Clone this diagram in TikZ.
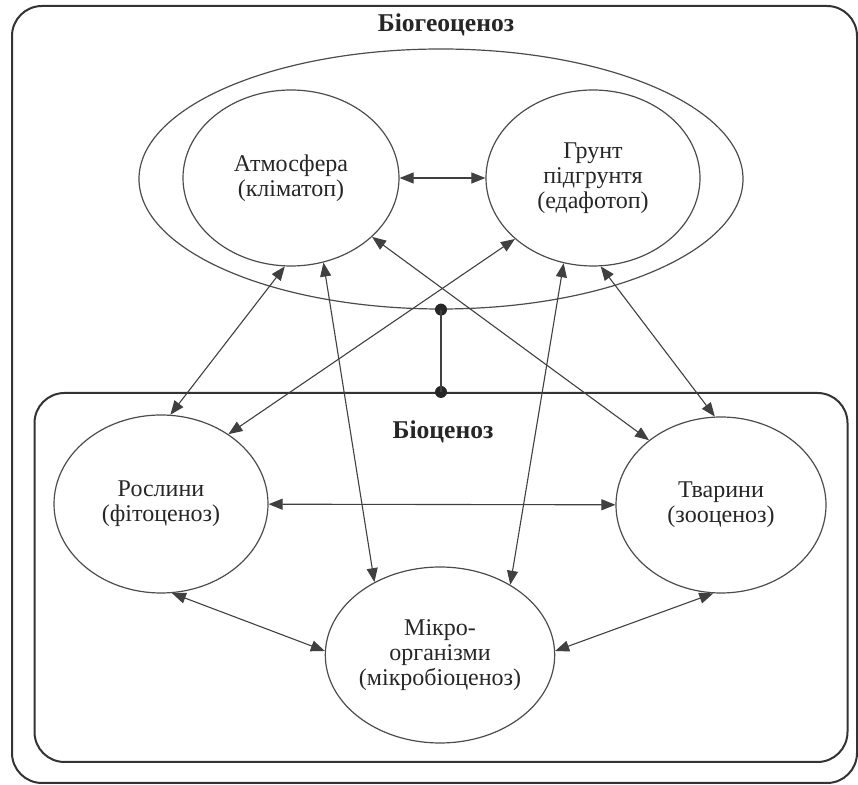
\documentclass[tikz,border=0pt]{standalone}
\usepackage{fontspec}
\setmainfont{Liberation Serif}
\usetikzlibrary{arrows.meta,shapes.geometric}

\begin{document}
\begin{tikzpicture}[x=0.5pt,y=-0.5pt,
  oval/.style={draw=black!70, line width=0.6pt, ellipse, inner sep=0pt, align=center,
    font=\fontsize{12}{12.5}\selectfont, text=black!85},
  link/.style={draw=black!75, line width=0.55pt,
    {Triangle[length=7pt,width=5.5pt]}-{Triangle[length=7pt,width=5.5pt]}},
  frame/.style={draw=black!80, line width=1pt, rounded corners=15pt},
  title/.style={font=\bfseries\fontsize{12.8}{14}\selectfont, text=black!85}]
  \useasboundingbox (0,0) rectangle (858,785);
  \draw[frame] (12,6) rectangle (857,783);
  \node[title] (biogeo) at (446,25) {Біогеоценоз};
  \node[oval, minimum width=302pt, minimum height=130pt] (ecotop) at (441,179) {};
  \node[oval, minimum width=108pt, minimum height=88pt] (atm) at (291,178)
    {Атмосфера\\(кліматоп)};
  \node[oval, minimum width=107pt, minimum height=88pt] (grunt) at (593,178)
    {Грунт\\підгрунтя\\(едафотоп)};
  \node[frame, inner sep=0pt, minimum width=406.5pt, minimum height=184.5pt] (biocen)
    at (441,577.5) {};
  \node[title] (biocentitle) at (443,432) {Біоценоз};
  \node[oval, minimum width=107pt, minimum height=89pt] (plants) at (161,504)
    {Рослини\\(фітоценоз)};
  \node[oval, minimum width=105pt, minimum height=88pt] (animals) at (721,505)
    {Тварини\\(зооценоз)};
  \node[oval, minimum width=107pt, minimum height=88pt] (micro) at (440,655)
    {Мікро-\\організми\\(мікробіоценоз)};
  \fill[black!85] (ecotop.south) circle (3pt);
  \fill[black!85] (biocen.north) circle (3pt);
  \draw[draw=black!75, line width=0.55pt] (ecotop.south) -- (biocen.north);
  \draw[link] (atm) -- (grunt);
  \draw[link] (plants) -- (animals);
  \draw[link] (atm.-94) -- (plants.84);
  \draw[link] (atm.-69) -- (micro.132);
  \draw[link] (atm.-36) -- (animals.138);
  \draw[link] (grunt.-142) -- (plants.46);
  \draw[link] (grunt.-109) -- (micro.45);
  \draw[link] (grunt.-85) -- (animals.94);
  \draw[link] (plants.-83) -- (micro.178);
  \draw[link] (animals.-95) -- (micro.2);
\end{tikzpicture}
\end{document}
